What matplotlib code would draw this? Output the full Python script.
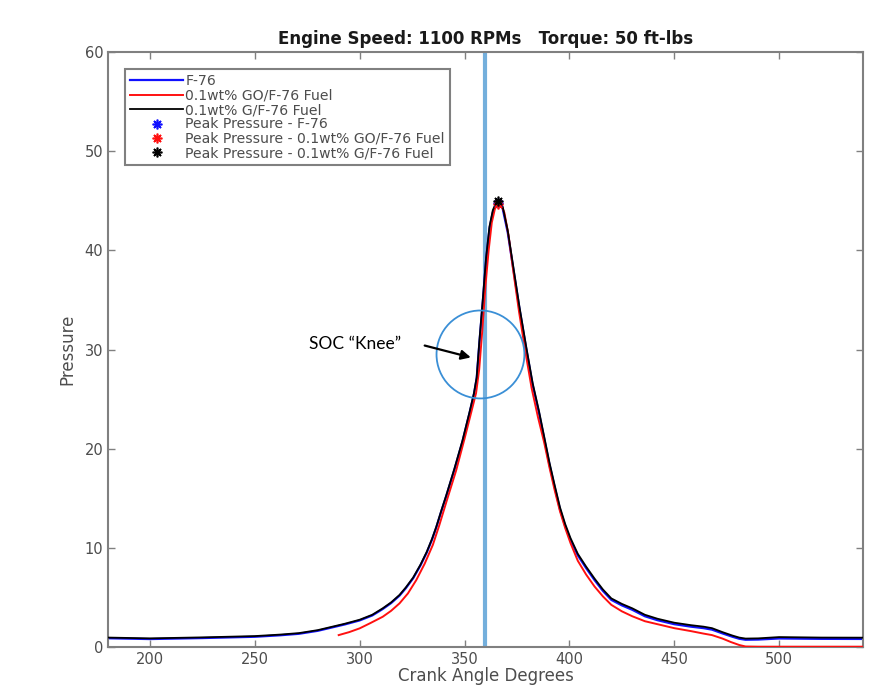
import matplotlib
matplotlib.use("Agg")
import matplotlib.pyplot as plt
from matplotlib.patches import Ellipse

# ---- data ----
x_g = [180, 200, 225, 250, 262, 271, 280, 287, 293, 300, 306, 311, 315, 319, 322, 325.5, 329, 332,
       334.5, 336.5, 339, 341.3, 345.2, 349, 352.4, 354.5, 355.8, 357.1, 358.7, 360.3, 361.9, 363.5,
       365, 366, 367, 368.2, 370.6, 373, 376.2, 379.4, 382.5, 385.5, 388, 390.5, 393, 395.5, 398,
       400.5, 404, 408, 412, 416, 420, 425, 430, 436, 442, 450, 458, 464, 468, 473, 477.8, 481, 484,
       490, 500, 520, 540]
y_g = [0.95, 0.87, 0.97, 1.1, 1.25, 1.4, 1.7, 2.05, 2.35, 2.75, 3.25, 3.9, 4.5, 5.25, 6.0, 7.0, 8.3, 9.6,
       10.9, 12.1, 13.8, 15.3, 18.0, 20.8, 23.7, 25.6, 27.2, 30.9, 35.0, 39.3, 42.4, 44.05,
       44.8, 45.0, 44.9, 44.4, 42.0, 38.7, 34.3, 30.3, 26.6, 23.8, 21.2, 18.6, 16.3, 14.1, 12.4,
       11.0, 9.4, 8.1, 6.9, 5.8, 4.9, 4.35, 3.9, 3.25, 2.85, 2.45, 2.2, 2.05, 1.9, 1.5, 1.15, 0.95, 0.85,
       0.87, 1.0, 0.95, 0.94]
y_f = [0.88, 0.8, 0.9, 1.03, 1.18, 1.33, 1.63, 1.98, 2.28, 2.68, 3.18, 3.83, 4.43, 5.18, 5.93, 6.93, 8.23, 9.53,
       10.83, 12.03, 13.73, 15.23, 17.9, 20.7, 23.6, 25.5, 27.1, 30.7, 34.8, 39.1, 42.2, 43.85,
       44.6, 44.8, 44.7, 44.2, 41.8, 38.5, 34.1, 30.1, 26.4, 23.6, 21.0, 18.4, 16.1, 13.9, 12.2,
       10.8, 9.25, 7.95, 6.75, 5.65, 4.75, 4.2, 3.75, 3.1, 2.7, 2.3, 2.05, 1.9, 1.75, 1.37, 1.03, 0.83, 0.73,
       0.75, 0.86, 0.82, 0.81]
x_go = [290, 295, 300, 305, 311, 315, 319, 323, 327, 331, 334.9, 338, 341.3, 346, 350, 353, 355.5, 357,
        358.5, 360, 361.5, 363, 364.5, 366, 367.5, 369, 371, 373, 376, 379, 382, 385, 388, 390.5, 393,
        395.5, 398, 400.5, 404, 408, 412, 416, 420, 425, 430, 436, 442, 450, 458, 464, 468, 473, 477,
        481, 484, 490, 500, 540]
y_go = [1.2, 1.5, 1.88, 2.4, 3.05, 3.65, 4.4, 5.4, 6.75, 8.4, 10.3, 12.3, 14.6, 17.8, 21.0, 23.5, 25.6, 28.0,
        32.0, 36.5, 40.0, 42.8, 44.2, 44.7, 44.6, 43.8, 41.5, 38.3, 33.8, 29.8, 26.1, 23.2, 20.6, 18.1, 15.8,
        13.7, 12.0, 10.5, 8.7, 7.3, 6.1, 5.1, 4.25, 3.6, 3.1, 2.6, 2.3, 1.9, 1.6, 1.35, 1.2, 0.85, 0.5,
        0.2, 0.05, 0.03, 0.03, 0.03]
peak_x = [366, 366, 366]
peak_y = [44.8, 44.7, 45.0]
soc_x = 360
knee_center = (357.6, 29.5)

labels = ["F-76", "0.1wt% GO/F-76 Fuel", "0.1wt% G/F-76 Fuel",
          "Peak Pressure - F-76", "Peak Pressure - 0.1wt% GO/F-76 Fuel",
          "Peak Pressure - 0.1wt% G/F-76 Fuel"]

plt.rcParams['font.family'] = ['DejaVu Sans']

fig = plt.figure(figsize=(8.71, 6.88), dpi=100)
ax = fig.add_axes([0.124, 0.0596, 0.8668, 0.8648])

gray = '#808080'
txtc = '#4d4d4d'

ax.axvline(soc_x, color='#74afdc', lw=3, zorder=1)

l1, = ax.plot(x_g, y_f, color='#1010ff', lw=1.6, zorder=2)
l2, = ax.plot(x_go, y_go, color='#ff1010', lw=1.4, zorder=3)
l3, = ax.plot(x_g, y_g, color='black', lw=1.3, zorder=4)

ast = (8, 2, 0)
m1, = ax.plot(peak_x[0], peak_y[0], ls='none', marker=ast, color='#1010ff', ms=7, mew=1.2, zorder=5)
m2, = ax.plot(peak_x[1], peak_y[1], ls='none', marker=ast, color='#ff1010', ms=7, mew=1.2, zorder=6)
m3, = ax.plot(peak_x[2], peak_y[2], ls='none', marker=ast, color='black', ms=7, mew=1.2, zorder=7)

ell = Ellipse(knee_center, width=41.9, height=8.87, fill=False, edgecolor='#3a8fd6', lw=1.3, zorder=5)
ax.add_patch(ell)

ax.annotate("", xy=(353, 29.2), xytext=(331, 30.4),
            arrowprops=dict(arrowstyle='-|>', color='black', lw=1.6, mutation_scale=14,
                            shrinkA=0, shrinkB=0), zorder=8)
ax.text(276, 30.6, "SOC \u201cKnee\u201d", fontsize=12.5, family=['Lato', 'DejaVu Sans'],
        ha='left', va='center', color='black')

ax.set_xlim(180, 540)
ax.set_ylim(0, 60)
ax.set_xticks([200, 250, 300, 350, 400, 450, 500])
ax.set_yticks([0, 10, 20, 30, 40, 50, 60])
ax.tick_params(direction='in', top=True, right=True, length=5, width=1, colors=gray,
               labelcolor=txtc, labelsize=10.5)
for s in ax.spines.values():
    s.set_color(gray)
    s.set_linewidth(1.5)

ax.set_xlabel("Crank Angle Degrees", fontsize=12, color=txtc, labelpad=0)
ax.set_ylabel("Pressure", fontsize=12, color=txtc, labelpad=6)
ax.set_title("Engine Speed: 1100 RPMs   Torque: 50 ft-lbs", fontsize=12,
             fontweight='bold', color='#1a1a1a', pad=6)

leg = ax.legend([l1, l2, l3, m1, m2, m3], labels, loc='upper left',
                bbox_to_anchor=(0.0225, 0.971), borderaxespad=0, fontsize=10.1,
                handlelength=3.8, labelspacing=0.03, borderpad=0.35, handletextpad=0.15,
                fancybox=False, framealpha=1, edgecolor=gray)
leg.get_frame().set_linewidth(1.5)
for t in leg.get_texts():
    t.set_color(txtc)

fig.savefig("out.png", dpi=100)
